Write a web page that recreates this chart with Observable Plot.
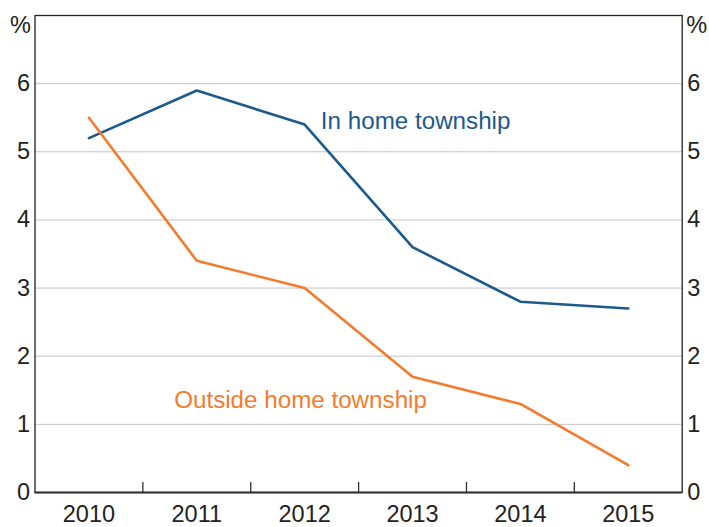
<!DOCTYPE html>
<html>
<head>
<meta charset="utf-8">
<script src="https://cdn.jsdelivr.net/npm/d3@7"></script>
<script src="https://cdn.jsdelivr.net/npm/@observablehq/plot@0.6"></script>
<style>
  html, body { margin: 0; padding: 0; background: #fff; }
</style>
</head>
<body>
<div id="chart"></div>
<script>
const years = [2010, 2011, 2012, 2013, 2014, 2015];
const inHome = [5.2, 5.9, 5.4, 3.6, 2.8, 2.7];
const outsideHome = [5.5, 3.4, 3.0, 1.7, 1.3, 0.4];
const yTicks = [0, 1, 2, 3, 4, 5, 6];
const gridTicks = [1, 2, 3, 4, 5, 6];
const xBoundaries = [2010.5, 2011.5, 2012.5, 2013.5, 2014.5];
const seriesNames = ["In home township", "Outside home township"];
const colors = ["#1b5a8d", "#f47b2e"];
const labelX = [2012.15, 2010.79];
const labelY = [5.45, 1.36];

const rows = [];
years.forEach((y, i) => {
  rows.push({year: y, value: inHome[i], series: seriesNames[0]});
  rows.push({year: y, value: outsideHome[i], series: seriesNames[1]});
});
const labels = seriesNames.map((s, i) => ({series: s, x: labelX[i], y: labelY[i]}));

const W = 709, H = 527;
const mT = 15, mB = 35, mL = 34.5, mR = 27.3;
const innerH = H - mT - mB;

const chart = Plot.plot({
  width: W,
  height: H,
  marginTop: mT,
  marginBottom: mB,
  marginLeft: mL,
  marginRight: mR,
  style: {fontFamily: "'Liberation Sans', Arial, sans-serif", fontSize: "23.5px", color: "#222", background: "#fff"},
  x: {domain: [2009.5, 2015.5]},
  y: {domain: [0, 7]},
  color: {domain: seriesNames, range: colors},
  marks: [
    Plot.ruleY(gridTicks, {stroke: "#c4c4c4", strokeWidth: 1}),
    Plot.axisX(years, {tickSize: 0, tickPadding: 13, tickFormat: d => String(d), label: null, fontSize: 23.5}),
    Plot.tickX(xBoundaries, {x: d => d, stroke: "#333", strokeWidth: 1.3, insetTop: innerH - 10}),
    Plot.axisY(yTicks, {anchor: "left", tickSize: 0, tickPadding: 5, tickFormat: d => String(d), label: null, fontSize: 23.5}),
    Plot.axisY(yTicks, {anchor: "right", tickSize: 0, tickPadding: 5, tickFormat: d => String(d), label: null, fontSize: 23.5}),
    Plot.text(["%"], {frameAnchor: "top-left", dx: -4, dy: 1, textAnchor: "end", lineAnchor: "top", fontSize: 23.5, fill: "#222"}),
    Plot.text(["%"], {frameAnchor: "top-right", dx: 4, dy: 1, textAnchor: "start", lineAnchor: "top", fontSize: 23.5, fill: "#222"}),
    Plot.line(rows, {x: "year", y: "value", stroke: "series", strokeWidth: 2.6, z: "series"}),
    Plot.text(labels, {x: "x", y: "y", text: "series", fill: "series", textAnchor: "start", fontSize: 24.2}),
    Plot.frame({stroke: "#222", strokeWidth: 1.3}),
    Plot.ruleY([0], {stroke: "#333", strokeWidth: 2.2})
  ]
});
document.getElementById("chart").appendChild(chart);
</script>
</body>
</html>
